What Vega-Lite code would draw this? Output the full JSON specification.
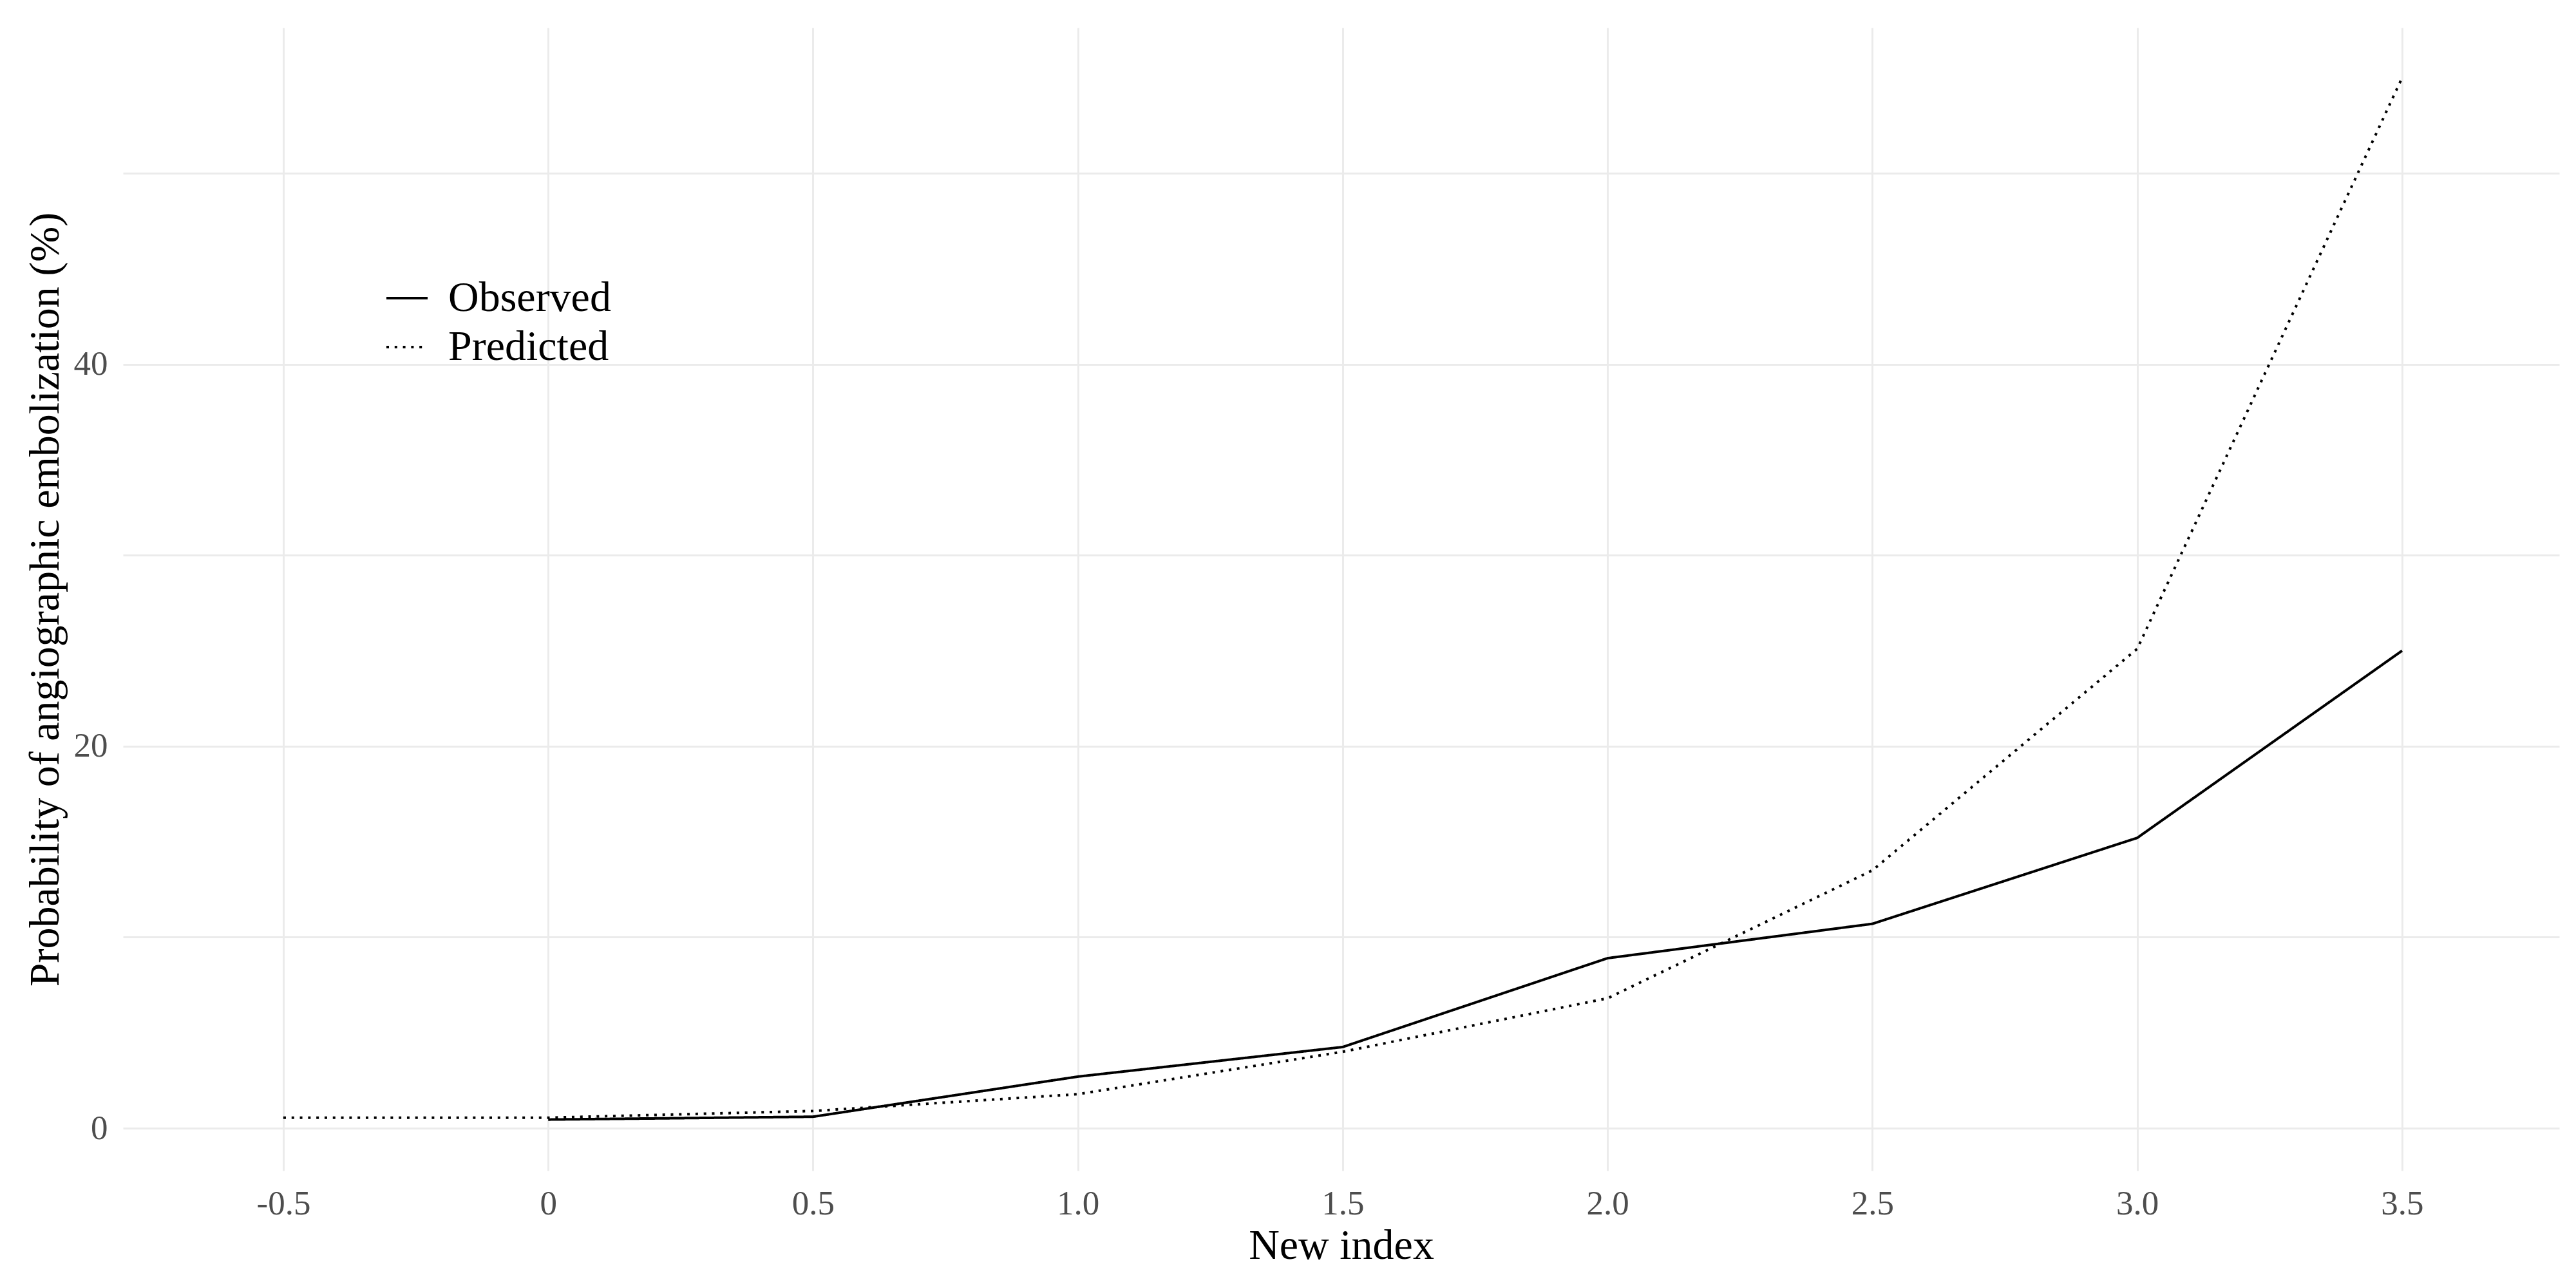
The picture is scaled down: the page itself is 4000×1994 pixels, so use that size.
{
  "$schema": "https://vega.github.io/schema/vega-lite/v6.json",
  "width": 3783,
  "height": 1775,
  "autosize": {"type": "none"},
  "padding": {"left": 191, "top": 43, "right": 26, "bottom": 176},
  "background": "white",
  "config": {
    "view": {"stroke": null},
    "font": "Liberation Serif",
    "axis": {
      "domain": false,
      "ticks": false,
      "tickSize": 0,
      "grid": true,
      "gridColor": "#ebebeb",
      "gridWidth": 3,
      "labelFont": "Liberation Serif",
      "labelFontSize": 53,
      "labelColor": "#4d4d4d",
      "labelOverlap": false,
      "labelFlush": false,
      "labelBound": false,
      "titleFont": "Liberation Serif",
      "titleFontSize": 66,
      "titleFontWeight": "normal",
      "titleColor": "black"
    }
  },
  "data": {
    "values": [
      {"index": 0.0, "prob": 0.45, "series": "Observed"},
      {"index": 0.5, "prob": 0.6, "series": "Observed"},
      {"index": 1.0, "prob": 2.7, "series": "Observed"},
      {"index": 1.5, "prob": 4.25, "series": "Observed"},
      {"index": 2.0, "prob": 8.9, "series": "Observed"},
      {"index": 2.5, "prob": 10.7, "series": "Observed"},
      {"index": 3.0, "prob": 15.2, "series": "Observed"},
      {"index": 3.5, "prob": 25.0, "series": "Observed"},
      {"index": -0.5, "prob": 0.55, "series": "Predicted"},
      {"index": 0.0, "prob": 0.55, "series": "Predicted"},
      {"index": 0.5, "prob": 0.9, "series": "Predicted"},
      {"index": 1.0, "prob": 1.78, "series": "Predicted"},
      {"index": 1.5, "prob": 4.0, "series": "Predicted"},
      {"index": 2.0, "prob": 6.8, "series": "Predicted"},
      {"index": 2.5, "prob": 13.5, "series": "Predicted"},
      {"index": 3.0, "prob": 25.1, "series": "Predicted"},
      {"index": 3.5, "prob": 55.0, "series": "Predicted"}
    ]
  },
  "mark": {"type": "line", "strokeWidth": 4, "color": "black"},
  "encoding": {
    "x": {
      "field": "index",
      "type": "quantitative",
      "scale": {"domain": [-0.8027, 3.7967], "nice": false, "zero": false},
      "axis": {
        "title": "New index",
        "values": [-0.5, 0, 0.5, 1, 1.5, 2, 2.5, 3, 3.5],
        "labelExpr": "datum.value == 0 ? '0' : (datum.value < 0 ? '-' + format(-datum.value, '.1f') : format(datum.value, '.1f'))",
        "labelPadding": 67,
        "labelBaseline": "alphabetic",
        "titleY": 136,
        "titleBaseline": "alphabetic"
      }
    },
    "y": {
      "field": "prob",
      "type": "quantitative",
      "scale": {"domain": [-2.225, 57.62], "nice": false, "zero": false},
      "axis": {
        "title": "Probability of angiographic embolization (%)",
        "values": [0, 10, 20, 30, 40, 50],
        "labelExpr": "datum.value % 20 == 0 ? datum.label : ''",
        "labelPadding": 24,
        "titleX": -101,
        "titleY": 887.5,
        "titleAngle": -90,
        "titleAlign": "center",
        "titleBaseline": "alphabetic"
      }
    },
    "strokeDash": {
      "field": "series",
      "type": "nominal",
      "scale": {"domain": ["Observed", "Predicted"], "range": [[1, 0], [4, 8.8]]},
      "legend": {
        "title": null,
        "orient": "none",
        "legendX": 407,
        "legendY": 386,
        "padding": 0,
        "symbolType": "stroke",
        "symbolSize": 4096,
        "symbolStrokeWidth": 4,
        "symbolStrokeColor": "black",
        "labelFont": "Liberation Serif",
        "labelFontSize": 66,
        "labelColor": "black",
        "labelLimit": 0,
        "labelOffset": 30,
        "rowPadding": 9
      }
    }
  }
}
